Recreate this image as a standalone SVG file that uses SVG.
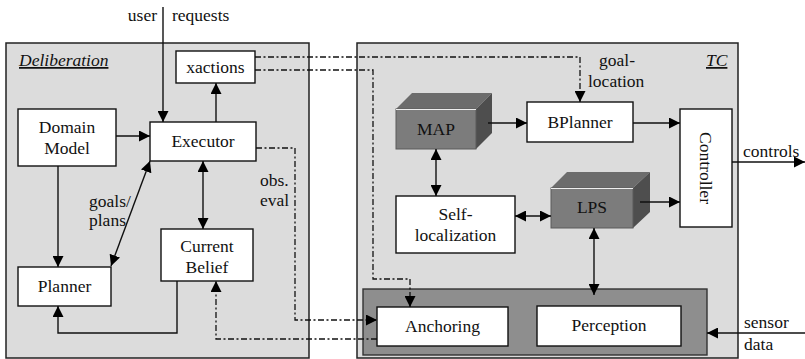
<svg xmlns="http://www.w3.org/2000/svg" width="805" height="359" viewBox="0 0 805 359" font-family="Liberation Serif, Times New Roman, DejaVu Serif, serif">
<style>
.panel{fill:#dcdcdc;stroke:#222;stroke-width:1.5}
.box{fill:#fff;stroke:#111;stroke-width:1.4}
.t{font-size:17.5px;fill:#111}
.c{text-anchor:middle}
.ln{fill:none;stroke:#111;stroke-width:1.4}
.dl{fill:none;stroke:#111;stroke-width:1.3;stroke-dasharray:6 2.5 2 2.5}
</style>
<defs>
<marker id="ah" viewBox="0 0 10 10" refX="10" refY="5" markerWidth="11" markerHeight="11" markerUnits="userSpaceOnUse" orient="auto-start-reverse">
<path d="M0,0 L10,5 L0,10 Z" fill="#000"/>
</marker>
</defs>
<rect width="805" height="359" fill="#fff"/>
<g id="deliberation-panel">
<rect class="panel" x="6" y="43" width="303" height="315"/>
<text class="t" x="19" y="66" font-family="Liberation Serif, serif" font-style="italic" text-decoration="underline">Deliberation</text>
</g>
<g id="tc-panel">
<rect class="panel" x="357" y="43" width="381" height="315"/>
<text class="t" x="706" y="66" font-family="Liberation Serif, serif" font-style="italic" text-decoration="underline">TC</text>
</g>
<g id="perception-container">
<rect x="363" y="289" width="344" height="66" fill="#8e8e8e" stroke="#333" stroke-width="1.4"/>
</g>
<g id="xactions">
<rect class="box" x="176" y="51" width="79" height="32"/>
<text class="t c" x="215.5" y="73" font-family="Liberation Serif, serif">xactions</text>
</g>
<g id="domain-model">
<rect class="box" x="18" y="109" width="98" height="57"/>
<text class="t c" x="67" y="133" font-family="Liberation Serif, serif">Domain</text>
<text class="t c" x="67" y="154" font-family="Liberation Serif, serif">Model</text>
</g>
<g id="executor">
<rect class="box" x="150" y="122" width="106" height="39"/>
<text class="t c" x="203" y="147" font-family="Liberation Serif, serif">Executor</text>
</g>
<g id="planner">
<rect class="box" x="18" y="267" width="93" height="39"/>
<text class="t c" x="64.5" y="292" font-family="Liberation Serif, serif">Planner</text>
</g>
<g id="current-belief">
<rect class="box" x="161" y="229" width="92" height="52"/>
<text class="t c" x="207" y="252" font-family="Liberation Serif, serif">Current</text>
<text class="t c" x="207" y="273" font-family="Liberation Serif, serif">Belief</text>
</g>
<g id="map">
<polygon points="396,109 412,93 492,93 476,109" fill="#6c6c6c"/>
<polygon points="476,109 492,93 492,133 476,149" fill="#4e4e4e"/>
<rect x="396" y="109" width="80" height="40" fill="#7c7c7c" stroke="#5a5a5a" stroke-width="1"/>
<line x1="396" y1="109.5" x2="476" y2="109.5" stroke="#eee" stroke-width="1"/>
<text class="t c" x="436" y="135" font-family="Liberation Serif, serif">MAP</text>
</g>
<g id="bplanner">
<rect class="box" x="527" y="102" width="106" height="40"/>
<text class="t c" x="580" y="128" font-family="Liberation Serif, serif">BPlanner</text>
</g>
<g id="controller">
<rect class="box" x="680" y="109" width="52" height="118"/>
<text class="t c" transform="translate(700,168) rotate(90)" x="0" y="0" font-family="Liberation Serif, serif">Controller</text>
</g>
<g id="self-localization">
<rect class="box" x="396" y="196" width="119" height="57"/>
<text class="t c" x="455.5" y="220" font-family="Liberation Serif, serif">Self-</text>
<text class="t c" x="455.5" y="241" font-family="Liberation Serif, serif">localization</text>
</g>
<g id="lps">
<polygon points="551,188 567,172 650,172 633,188" fill="#6c6c6c"/>
<polygon points="633,188 650,172 650,212 633,228" fill="#4e4e4e"/>
<rect x="551" y="188" width="82" height="40" fill="#7c7c7c" stroke="#5a5a5a" stroke-width="1"/>
<line x1="551" y1="188.5" x2="633" y2="188.5" stroke="#eee" stroke-width="1"/>
<text class="t c" x="592" y="213" font-family="Liberation Serif, serif">LPS</text>
</g>
<g id="anchoring">
<rect class="box" x="377" y="307" width="131" height="39"/>
<text class="t c" x="442.5" y="332" font-family="Liberation Serif, serif">Anchoring</text>
</g>
<g id="perception">
<rect class="box" x="537" y="306" width="144" height="40"/>
<text class="t c" x="609" y="331" font-family="Liberation Serif, serif">Perception</text>
</g>
<g id="connectors">
<path class="ln" d="M163,7 V122" marker-end="url(#ah)"/>
<path class="ln" d="M116,136 H150" marker-end="url(#ah)"/>
<path class="ln" d="M216,122 V83" marker-end="url(#ah)"/>
<path class="ln" d="M58,166 V267" marker-end="url(#ah)"/>
<path class="ln" d="M111,266 L150,161" marker-start="url(#ah)" marker-end="url(#ah)"/>
<path class="ln" d="M203,161 V229" marker-start="url(#ah)" marker-end="url(#ah)"/>
<path class="ln" d="M177,281 V333 H58 V306" marker-end="url(#ah)"/>
<path class="dl" d="M256,148 H295 V320 H377" marker-end="url(#ah)"/>
<path class="dl" d="M377,339 H216 V281" marker-end="url(#ah)"/>
<path class="dl" d="M255,57 H580 V102" marker-end="url(#ah)"/>
<path class="dl" d="M255,70 H373 V279 H410 V307" marker-end="url(#ah)"/>
<path class="ln" d="M488,123 H527" marker-end="url(#ah)"/>
<path class="ln" d="M633,123 H680" marker-end="url(#ah)"/>
<path class="ln" d="M436,149 V196" marker-start="url(#ah)" marker-end="url(#ah)"/>
<path class="ln" d="M515,216 H551" marker-start="url(#ah)" marker-end="url(#ah)"/>
<path class="ln" d="M640,202 H680" marker-end="url(#ah)"/>
<path class="ln" d="M594,228 V295" marker-start="url(#ah)" marker-end="url(#ah)"/>
<path class="ln" d="M732,162 H805" marker-end="url(#ah)"/>
<path class="ln" d="M805,333 H707" marker-end="url(#ah)"/>
</g>
<g id="labels" font-family="Liberation Serif, serif">
<text class="t" x="157" y="21" text-anchor="end">user</text>
<text class="t" x="172" y="21">requests</text>
<text class="t" x="89" y="207">goals/</text>
<text class="t" x="89" y="226">plans</text>
<text class="t" x="260" y="186">obs.</text>
<text class="t" x="260" y="206">eval</text>
<text class="t" x="599" y="66">goal-</text>
<text class="t" x="588" y="87">location</text>
<text class="t" x="743" y="157">controls</text>
<text class="t" x="744" y="328">sensor</text>
<text class="t" x="744" y="350">data</text>
</g>
</svg>
